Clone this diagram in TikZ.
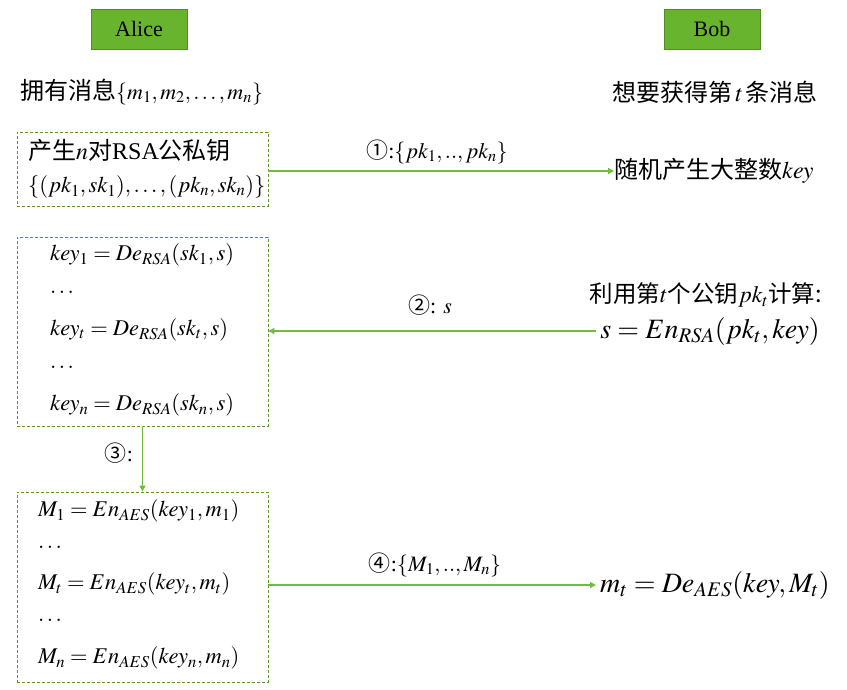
\documentclass[tikz,border=0pt]{standalone}
\usepackage{mathptmx}
\usepackage{fontspec}
\setmainfont{Liberation Serif}
\newfontfamily\cjk{Noto Sans CJK SC}
\usetikzlibrary{arrows.meta}
\definecolor{actorfill}{RGB}{104,180,46}
\definecolor{actordraw}{RGB}{80,140,40}
\definecolor{arrgreen}{RGB}{112,188,64}
\definecolor{dashgreen}{RGB}{88,150,44}
\tikzset{
  actor/.style={draw=actordraw, fill=actorfill, line width=0.8pt, minimum width=96pt, minimum height=40pt, inner sep=0pt, font=\fontsize{22}{26}\selectfont},
  dbox/.style={draw=dashgreen, dash pattern=on 3pt off 2pt, line width=0.9pt, inner sep=0pt},
  txt/.style={inner sep=0pt},
  big/.style={font=\fontsize{24}{28}\selectfont},
  boxmath/.style={font=\fontsize{22.5}{26}\selectfont},
  bigmath/.style={font=\fontsize{28}{32}\selectfont},
  lab/.style={font=\fontsize{22}{26}\selectfont},
  arr/.style={draw=arrgreen, line width=1.3pt, -{Triangle[length=6pt,width=6pt]}},
}
\begin{document}
\begin{tikzpicture}[x=1pt,y=-1pt, font=\fontsize{22}{26}\selectfont]
\useasboundingbox (0,0) rectangle (847,690);
% actors
\node[actor] (alice) at (139,29) {Alice};
\node[actor] (bob) at (712,29) {Bob};
% headers
\node[txt, big, anchor=west] (has) at (20,92) {{\cjk 拥有消息}{\fontsize{22}{26}\selectfont$\{m_1, m_2, \ldots, m_n\}$}};
\node[txt, big, anchor=east] (want) at (818,92) {{\cjk 想要获得第}$\,t\,${\cjk 条消息}};
% box 1
\node[dbox, minimum width=251pt, minimum height=74pt] (b1) at (142.5,169) {};
\node[txt, big, anchor=west] (b1l1) at (28,150) {{\cjk 产生}$n${\cjk 对}RSA{\cjk 公私钥}};
\node[txt, boxmath, anchor=west] (b1l2) at (28,187) {$\{(pk_1, sk_1), \ldots, (pk_n, sk_n)\}$};
% right of box 1
\node[txt, big, anchor=west] (bigkey) at (614,171) {{\cjk 随机产生大整数}$key$};
\draw[arr] (b1.east |- bigkey.west) -- (bigkey.west);
\node[txt, lab] (lab1) at (437,152) {{\cjk ①}:$\{pk_1, .., pk_n\}$};
% box 2
\node[dbox, minimum width=251pt, minimum height=189pt] (b2) at (142.5,331.5) {};
\node[txt, boxmath, anchor=west] (k1) at (50,255) {$key_1 = De_{RSA}(sk_1, s)$};
\node[txt, boxmath, anchor=west] (d1) at (50,292) {$\ldots$};
\node[txt, boxmath, anchor=west] (kt) at (50,330) {$key_t = De_{RSA}(sk_t, s)$};
\node[txt, boxmath, anchor=west] (d2) at (50,367) {$\ldots$};
\node[txt, boxmath, anchor=west] (kn) at (50,405) {$key_n = De_{RSA}(sk_n, s)$};
% right of box 2
\node[txt, font=\fontsize{23.5}{28}\selectfont, anchor=east] (use) at (822,295) {{\cjk 利用第}$t${\cjk 个公钥}$pk_t${\cjk 计算:}};
\node[txt, bigmath, anchor=east] (senc) at (820,331) {$s = En_{RSA}(pk_t, key)$};
\coordinate (s2) at ([xshift=-4pt]senc.west);
\draw[arr] (s2) -- (s2 -| b2.east);
\node[txt, lab] (lab2) at (430,305) {{\cjk ②}: $s$};
% box 3
\node[dbox, minimum width=251pt, minimum height=190pt] (b3) at (142.5,587) {};
\draw[arr] (b2.south) -- (b3.north);
\node[txt, lab] (lab3) at (119,453) {{\cjk ③}:};
\node[txt, boxmath, anchor=west] (M1) at (38,511) {$M_1 = En_{AES}(key_1, m_1)$};
\node[txt, boxmath, anchor=west] (e1) at (38,547) {$\ldots$};
\node[txt, boxmath, anchor=west] (Mt) at (38,584) {$M_t = En_{AES}(key_t, m_t)$};
\node[txt, boxmath, anchor=west] (e2) at (38,620) {$\ldots$};
\node[txt, boxmath, anchor=west] (Mn) at (38,658) {$M_n = En_{AES}(key_n, m_n)$};
% right of box 3
\node[txt, bigmath, anchor=west] (mt) at (600,585) {$m_t = De_{AES}(key, M_t)$};
\coordinate (e4) at ([xshift=-4pt]mt.west);
\draw[arr] (e4 -| b3.east) -- (e4);
\node[txt, lab] (lab4) at (435,565) {{\cjk ④}:$\{M_1, .., M_n\}$};
\end{tikzpicture}
\end{document}
